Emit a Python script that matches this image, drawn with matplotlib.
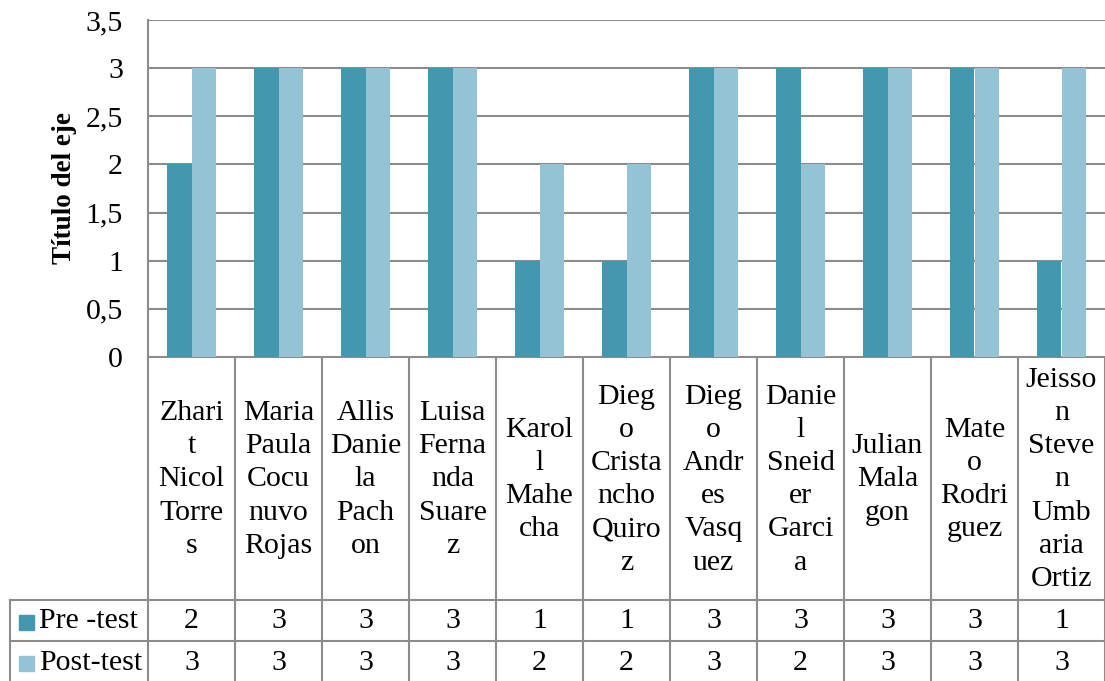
import matplotlib
matplotlib.use("Agg")
import matplotlib.pyplot as plt
from matplotlib.patches import Rectangle
import numpy as np

categories = [
    "Zhari\nt\nNicol\nTorre\ns",
    "Maria\nPaula\nCocu\nnuvo\nRojas",
    "Allis\nDanie\nla\nPach\non",
    "Luisa\nFerna\nnda\nSuare\nz",
    "Karol\nl\nMahe\ncha",
    "Dieg\no\nCrista\nncho\nQuiro\nz",
    "Dieg\no\nAndr\nes\nVasq\nuez",
    "Danie\nl\nSneid\ner\nGarci\na",
    "Julian\nMala\ngon",
    "Mate\no\nRodri\nguez",
    "Jeisso\nn\nSteve\nn\nUmb\naria\nOrtiz",
]
series_names = ["Pre -test", "Post-test"]
pre_test = [2, 3, 3, 3, 1, 1, 3, 3, 3, 3, 1]
post_test = [3, 3, 3, 3, 2, 2, 3, 2, 3, 3, 3]
y_ticks = [0, 0.5, 1, 1.5, 2, 2.5, 3, 3.5]
y_title = "Título del eje"

colors = ["#4398B0", "#93C3D5"]
grid_c = "#8c8c8c"
FONT = "Liberation Serif"
FS = 21.5

W, H = 1105, 681
fig = plt.figure(figsize=(W / 100, H / 100), dpi=100)

ov = fig.add_axes([0, 0, 1, 1])
ov.set_xlim(0, W)
ov.set_ylim(H, 0)
ov.axis("off")

left, right, top, bottom = 148, 1105, 20, 357
ax = fig.add_axes([left / W, 1 - bottom / H, (right - left) / W, (bottom - top) / H])
n = len(categories)
x = np.arange(n)
bw = 0.28
ax.bar(x - bw / 2, pre_test, bw, color=colors[0], zorder=3, edgecolor="none")
ax.bar(x + bw / 2, post_test, bw, color=colors[1], zorder=3, edgecolor="none")
ax.set_xlim(-0.5, n - 0.5)
ax.set_ylim(0, 3.5)
ax.set_yticks(y_ticks)
ax.set_yticklabels([("%g" % t).replace(".", ",") for t in y_ticks],
                   fontfamily=FONT, fontsize=FS)
ax.tick_params(axis="y", length=0, pad=18)
ax.set_xticks([])
ax.yaxis.grid(True, color=grid_c, lw=1.5, zorder=0)
for s in ["top", "right", "bottom"]:
    ax.spines[s].set_visible(False)
ax.spines["left"].set_color(grid_c)
ax.spines["left"].set_linewidth(1.5)
ax.set_ylabel(y_title, fontfamily=FONT, fontsize=19.5, fontweight="bold", labelpad=6)

colw = (right - left) / n
row1, row2, row3 = 600, 641, 681
lw = 1.5
ov.plot([left, right], [bottom, bottom], color=grid_c, lw=lw)
for i in range(n + 1):
    xx = left + i * colw
    ov.plot([xx, xx], [bottom, H], color=grid_c, lw=lw)
ov.plot([10, right], [row1, row1], color=grid_c, lw=lw)
ov.plot([10, right], [row2, row2], color=grid_c, lw=lw)
ov.plot([10, 10], [row1, H], color=grid_c, lw=lw)

for i, lab in enumerate(categories):
    cx = left + (i + 0.5) * colw
    ov.text(cx, (bottom + row1) / 2 + 1, lab, ha="center", va="center",
            fontfamily=FONT, fontsize=FS, linespacing=1.36)
    ov.text(cx, (row1 + row2) / 2 + 1, str(pre_test[i]), ha="center", va="center",
            fontfamily=FONT, fontsize=FS)
    ov.text(cx, (row2 + row3) / 2 + 2, str(post_test[i]), ha="center", va="center",
            fontfamily=FONT, fontsize=FS)

for j, (name, c) in enumerate(zip(series_names, colors)):
    yc = (row1 + row2) / 2 + 1 if j == 0 else (row2 + row3) / 2 + 2
    ov.add_patch(Rectangle((19, yc - 7), 15, 15, color=c))
    ov.text(39, yc, name, ha="left", va="center", fontfamily=FONT, fontsize=FS)

fig.savefig("out.png", dpi=100)
